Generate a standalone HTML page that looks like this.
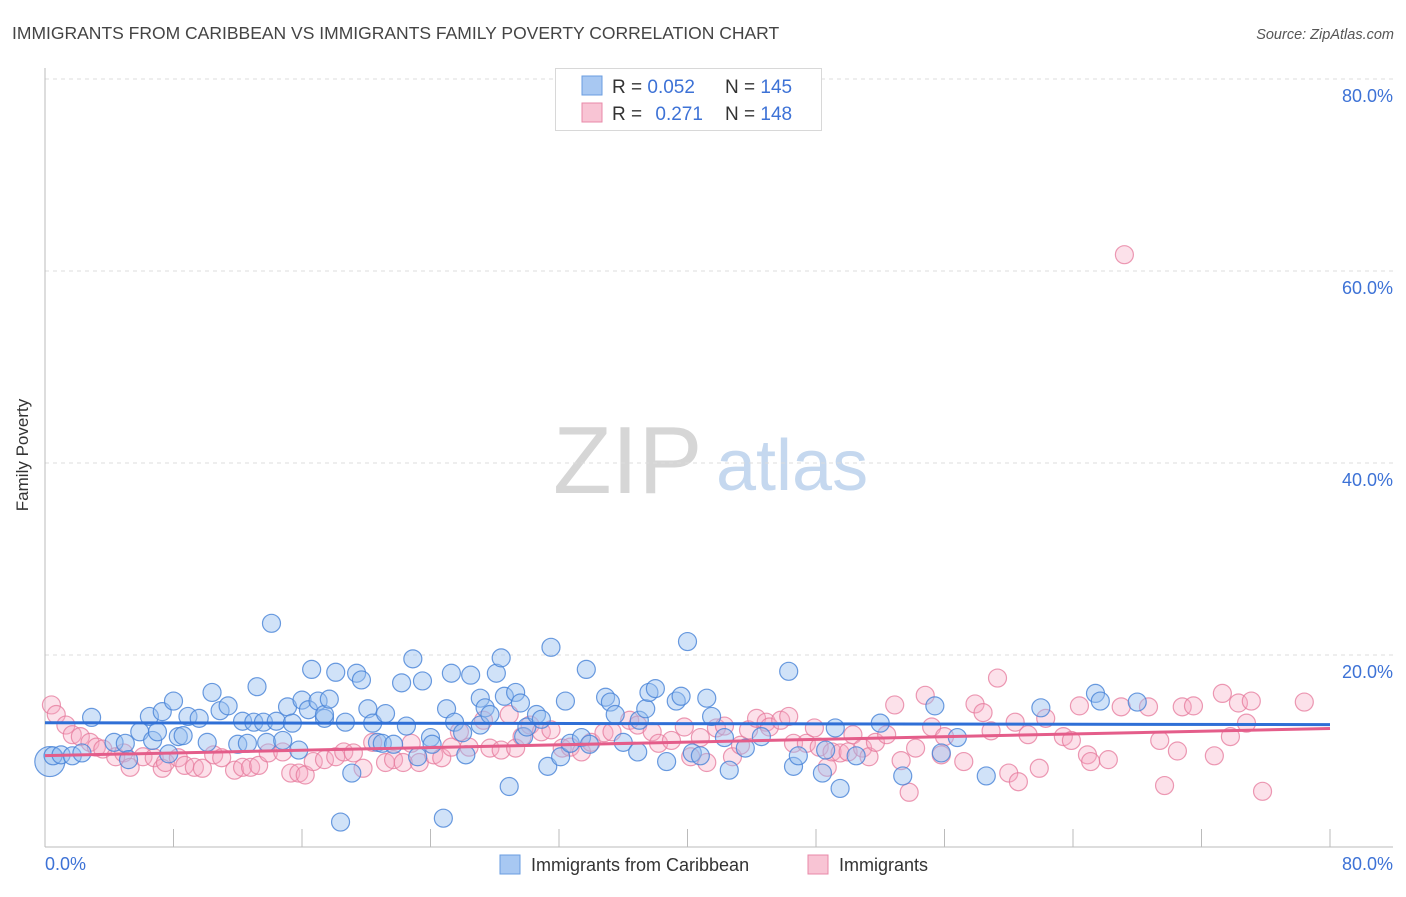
<!DOCTYPE html>
<html><head><meta charset="utf-8"><style>
body{margin:0;background:#fff;font-family:"Liberation Sans",sans-serif;}
svg text{font-family:"Liberation Sans",sans-serif;}
</style></head><body>
<svg id="chart" width="1406" height="892" viewBox="0 0 1406 892">
<text x="12" y="39" font-size="17.5" fill="#444">IMMIGRANTS FROM CARIBBEAN VS IMMIGRANTS FAMILY POVERTY CORRELATION CHART</text>
<text x="1394" y="39" font-size="14.5" fill="#555" font-style="italic" text-anchor="end">Source: ZipAtlas.com</text>
<g>
<text x="553" y="493" font-family="Liberation Serif" font-size="96" fill="#d6d6d6">ZIP</text>
<text x="716" y="490" font-size="72" fill="#c5d8ef">atlas</text>
</g>
<g id="grid"></g>
<g id="axes"></g>
<g id="pinkPts"></g>
<g id="bluePts"></g>
<g id="trends"></g>
<text x="28" y="455" font-size="17" fill="#333" text-anchor="middle" transform="rotate(-90 28 455)">Family Poverty</text>
<g>
<rect x="555.5" y="68.5" width="266" height="62" fill="#fff" stroke="#d8d8d8"/>
<rect x="582" y="76" width="20" height="19" fill="#a8c8f2" stroke="#6a9de0"/>
<text x="612" y="93" font-size="19" fill="#333">R = <tspan fill="#3d72d6">0.052</tspan></text>
<text x="725" y="93" font-size="19" fill="#333">N = <tspan fill="#3d72d6">145</tspan></text>
<rect x="582" y="103" width="20" height="19" fill="#f8c4d4" stroke="#e889a8"/>
<text x="612" y="120" font-size="19" fill="#333">R = <tspan fill="#3d72d6" dx="8">0.271</tspan></text>
<text x="725" y="120" font-size="19" fill="#333">N = <tspan fill="#3d72d6">148</tspan></text>
</g>
<g>
<rect x="500" y="855" width="20" height="19" fill="#a8c8f2" stroke="#6a9de0"/>
<text x="531" y="871" font-size="18" fill="#333">Immigrants from Caribbean</text>
<rect x="808" y="855" width="20" height="19" fill="#f8c4d4" stroke="#e889a8"/>
<text x="839" y="871" font-size="18" fill="#333">Immigrants</text>
</g>
</svg>
<script>
const yTicks=[20,40,60,80];
const yTickLabels=["20.0%","40.0%","60.0%","80.0%"];
const xTickVals=[0,8,16,24,32,40,48,56,64,72,80];
const xEndLabels=["0.0%","80.0%"];
const blueX=[0.3,0.5,1.0,1.7,2.3,2.9,4.3,5.0,5.2,5.9,6.5,6.7,7.0,7.3,7.7,8.0,8.3,8.6,8.9,9.6,10.1,10.4,10.9,11.4,12.0,12.3,12.6,13.0,13.2,13.6,13.8,14.1,14.4,14.8,15.1,15.4,15.8,16.0,16.4,16.6,17.0,17.4,17.4,17.7,18.1,18.4,18.7,19.1,19.4,19.7,20.1,20.4,20.7,21.0,21.2,21.7,22.2,22.5,22.9,23.2,23.5,24.0,24.1,24.8,25.0,25.3,25.5,26.0,26.2,26.5,27.1,27.1,27.4,27.7,28.1,28.4,28.6,28.9,29.3,29.6,29.8,30.0,30.6,30.9,31.3,31.5,32.1,32.4,32.7,33.4,33.7,33.9,34.9,35.2,35.5,36.0,36.9,37.0,37.4,37.6,38.0,38.7,39.3,39.6,40.0,40.3,40.8,41.2,41.5,42.3,42.6,43.6,44.6,46.3,46.6,46.9,48.4,48.6,49.2,49.5,50.5,52.0,53.4,55.4,55.8,56.8,58.6,62.0,65.4,65.7,68.0];
const blueY=[8.9,9.5,9.6,9.5,9.8,13.5,10.9,10.8,9.1,12.0,13.6,11.1,12.0,14.1,9.7,15.2,11.5,11.6,13.6,13.4,10.9,16.1,14.2,14.7,10.7,13.1,10.8,13.0,16.7,13.0,10.9,23.3,13.1,11.1,14.6,12.9,10.1,15.3,14.3,18.5,15.2,13.4,13.8,15.4,18.2,2.6,13.0,7.7,18.1,17.4,14.4,12.9,10.9,10.8,13.9,10.7,17.1,12.6,19.6,9.4,17.3,11.4,10.7,3.0,14.4,18.1,13.0,11.9,9.6,17.9,15.5,12.7,14.5,13.8,18.1,19.7,15.7,6.3,16.1,15.0,11.5,12.5,13.8,13.3,8.4,20.8,9.4,15.2,10.8,11.4,18.5,10.7,15.6,15.1,13.8,10.9,9.9,13.2,14.4,16.1,16.5,8.9,15.2,15.7,21.4,9.8,9.5,15.5,13.6,11.4,8.0,10.3,11.5,18.3,8.4,9.5,7.7,10.1,12.4,6.1,9.5,12.9,7.4,14.7,9.8,11.4,7.4,14.5,16.0,15.2,15.1];
const pinkX=[0.4,0.7,1.3,1.7,2.2,2.8,3.2,3.6,4.4,4.9,5.3,6.1,6.8,7.3,7.5,8.3,8.7,9.3,9.8,10.5,11.0,11.8,12.3,12.8,13.3,13.9,14.8,15.3,15.8,16.2,16.7,17.4,18.1,18.6,19.2,19.8,20.4,21.2,21.7,22.3,22.8,23.3,24.2,24.7,25.3,25.8,26.4,27.3,27.7,28.4,28.9,29.3,29.7,30.2,30.9,31.5,32.2,32.7,33.4,34.0,34.8,35.3,36.4,36.9,37.8,38.2,39.0,39.8,40.2,41.2,40.8,41.8,42.3,42.8,43.3,43.8,44.3,44.9,45.1,45.8,46.3,46.6,47.4,47.9,48.2,48.7,49.0,49.5,50.0,50.3,50.9,51.3,51.7,52.4,52.9,53.3,53.8,54.2,54.8,55.2,56.0,55.8,57.2,57.9,58.4,58.9,59.3,60.0,60.4,60.6,61.2,61.9,62.3,63.4,63.9,64.4,64.9,65.1,66.2,67.0,67.2,68.7,69.4,69.7,70.5,70.8,71.5,72.8,73.3,73.8,74.3,74.8,75.1,75.8,78.4];
const pinkY=[14.8,13.8,12.7,11.7,11.5,10.9,10.4,10.2,9.4,9.8,8.3,9.4,9.3,8.2,8.8,9.3,8.5,8.3,8.2,9.6,9.3,8.0,8.3,8.3,8.5,9.8,9.9,7.7,7.7,7.5,8.9,9.1,9.4,9.9,9.8,8.2,10.9,8.8,9.1,8.8,10.8,8.8,9.6,9.3,10.4,12.0,10.4,13.2,10.3,10.1,13.8,10.3,11.5,12.7,12.0,12.2,10.3,10.4,9.9,10.9,11.9,12.0,13.2,12.7,12.0,10.8,11.1,12.5,9.4,8.8,11.4,12.4,12.6,9.4,10.6,12.2,13.4,13.0,12.5,13.2,13.6,10.8,10.8,12.4,10.4,8.3,9.9,9.8,9.9,11.7,10.3,9.4,10.9,11.7,14.8,9.0,5.7,10.3,15.8,12.5,11.5,9.6,8.9,14.9,14.0,12.1,17.6,7.7,13.0,6.8,11.7,8.2,13.4,11.5,11.1,14.7,9.6,8.9,9.1,14.6,61.7,14.6,11.1,6.4,10.0,14.6,14.7,9.5,16.0,11.5,15.0,12.9,15.2,5.8,15.1];

const X0=45,X1=1330,Y0=847,PXPER=9.6;
function sx(v){return X0+(v/80)*(X1-X0);}
function sy(v){return Y0-v*PXPER;}
const NS="http://www.w3.org/2000/svg";
function mk(tag,attrs,parent){const e=document.createElementNS(NS,tag);for(const k in attrs)e.setAttribute(k,attrs[k]);parent.appendChild(e);return e;}
const grid=document.getElementById('grid'),axes=document.getElementById('axes');
yTicks.forEach((t,i)=>{
  const l=mk('line',{x1:X0,x2:1393,y1:sy(t),y2:sy(t),stroke:'#dcdcdc','stroke-dasharray':'4 4'},grid);
  
  
  const tx=mk('text',{x:1393,y:sy(t)+23,'font-size':18,fill:'#3d72d6','text-anchor':'end'},axes);
  tx.textContent=yTickLabels[i];
  
  
});
const ax=mk('line',{x1:X0,x2:X0,y1:68,y2:Y0,stroke:'#bbb'},axes);


const bx=mk('line',{x1:X0,x2:1393,y1:Y0,y2:Y0,stroke:'#bbb'},axes);


xTickVals.forEach(t=>{
  const l=mk('line',{x1:sx(t),x2:sx(t),y1:t===0?Y0:829,y2:Y0,stroke:'#bbb'},axes);
  
  
});
const xl0=mk('text',{x:X0,y:870,'font-size':18,fill:'#3d72d6'},axes);
xl0.textContent=xEndLabels[0];


const xl1=mk('text',{x:1393,y:870,'font-size':18,fill:'#3d72d6','text-anchor':'end'},axes);
xl1.textContent=xEndLabels[1];



function drawPts(xs,ys,g,fill,stroke,name){
  xs.forEach((x,i)=>{
    const c=mk('circle',{cx:sx(x),cy:sy(ys[i]),r:(i===0&&name==='caribbean-point')?15:9,fill:fill,stroke:stroke,'stroke-width':1.2},g);
    
    
  });
}
drawPts(pinkX,pinkY,document.getElementById('pinkPts'),'rgba(246,170,196,0.35)','rgba(230,120,155,0.75)','immigrants-point');
drawPts(blueX,blueY,document.getElementById('bluePts'),'rgba(150,190,240,0.45)','rgba(70,130,215,0.8)','caribbean-point');

function robustFit(xs,ys){
  const pts=xs.map((x,i)=>[x,ys[i]]).filter(p=>p[1]<40);
  const n=pts.length;let mx=0,my=0;pts.forEach(p=>{mx+=p[0];my+=p[1];});mx/=n;my/=n;
  let sxy=0,sxx=0;pts.forEach(p=>{sxy+=(p[0]-mx)*(p[1]-my);sxx+=(p[0]-mx)**2;});
  const b=sxy/sxx;return [my-b*mx,b];
}
const tr=document.getElementById('trends');
[[blueX,blueY,'#2f6fd6','caribbean-trend-line'],[pinkX,pinkY,'#e45d8a','immigrants-trend-line']].forEach(s=>{
  const [a,b]=robustFit(s[0],s[1]);
  const l=mk('line',{x1:sx(0),y1:sy(a),x2:sx(80),y2:sy(a+b*80),stroke:s[2],'stroke-width':3},tr);
  
  
});
</script>
</body></html>
